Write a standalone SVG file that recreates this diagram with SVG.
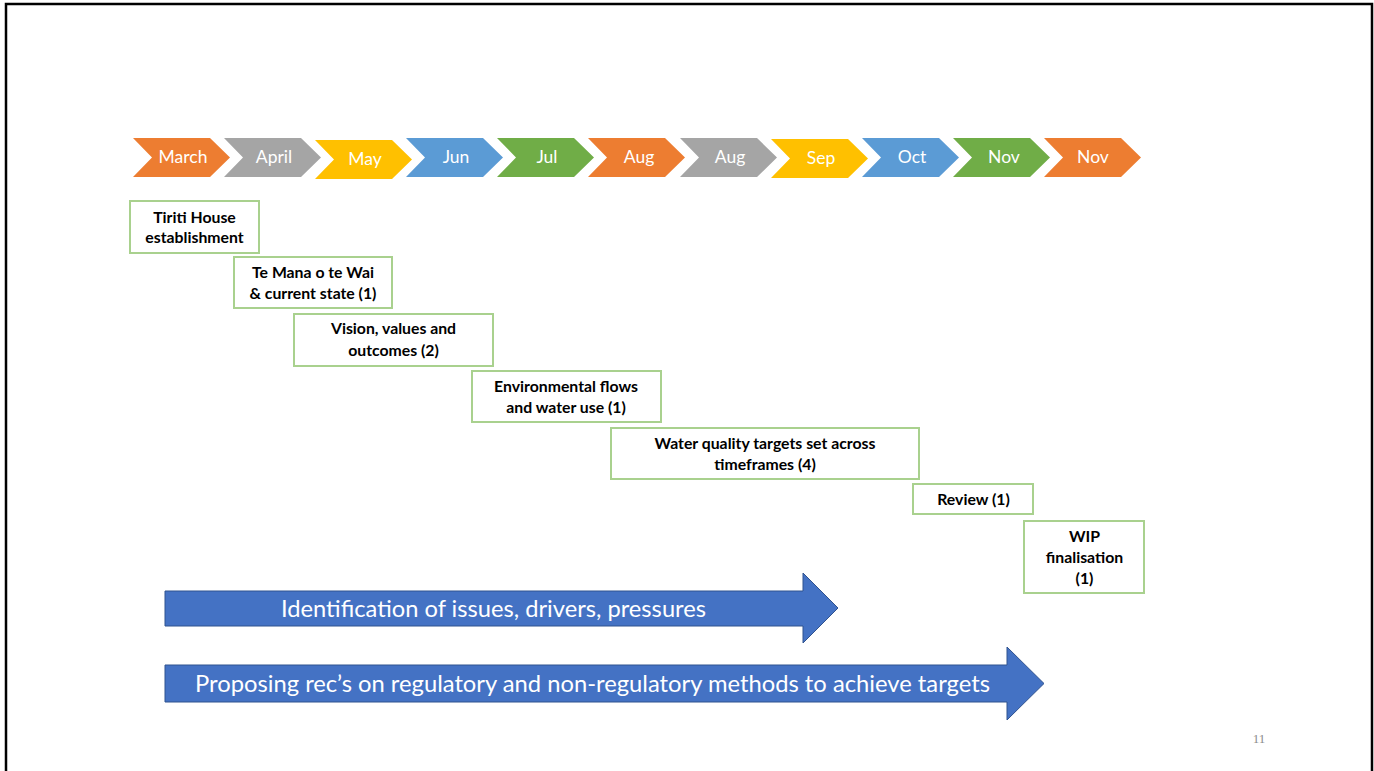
<svg xmlns="http://www.w3.org/2000/svg" width="1374" height="771" viewBox="0 0 1374 771">
<style>
.chev{stroke:none}
.ct{font-family:Lato,"Open Sans",sans-serif;font-size:17.5px;fill:#ffffff;text-anchor:middle}
.box{fill:#ffffff;stroke:#A9D18E;stroke-width:2}
.bt{font-family:Lato,"Open Sans",sans-serif;font-size:15.8px;font-weight:bold;fill:#000000;text-anchor:middle}
.arr{fill:#4472C4;stroke:#2F528F;stroke-width:1}
.at{font-family:Lato,"Open Sans",sans-serif;font-size:24px;fill:#ffffff;text-anchor:middle}
</style>
<defs>
<path id="chv" d="M0,0 H77 L97,19.5 L77,39 H0 L19,19.5 Z"/>
</defs>
<rect x="0" y="0" width="1374" height="771" fill="#ffffff"/>
<path d="M6,771 V4 H1372 V771" fill="none" stroke="#000000" stroke-width="2.5"/>

<g id="months">
<g id="m-march"><use href="#chv" x="133" y="138" fill="#ED7D31"/><text class="ct" x="183" y="163">March</text></g>
<g id="m-april"><use href="#chv" x="224" y="138" fill="#A5A5A5"/><text class="ct" x="274" y="163">April</text></g>
<g id="m-may"><use href="#chv" x="315" y="140" fill="#FFC000"/><text class="ct" x="365" y="165">May</text></g>
<g id="m-jun"><use href="#chv" x="406" y="138" fill="#5B9BD5"/><text class="ct" x="456" y="163">Jun</text></g>
<g id="m-jul"><use href="#chv" x="497" y="138" fill="#70AD47"/><text class="ct" x="547" y="163">Jul</text></g>
<g id="m-aug1"><use href="#chv" x="588" y="138" fill="#ED7D31"/><text class="ct" x="639" y="163">Aug</text></g>
<g id="m-aug2"><use href="#chv" x="680" y="138" fill="#A5A5A5"/><text class="ct" x="730" y="163">Aug</text></g>
<g id="m-sep"><use href="#chv" x="771" y="139" fill="#FFC000"/><text class="ct" x="821" y="164">Sep</text></g>
<g id="m-oct"><use href="#chv" x="862" y="138" fill="#5B9BD5"/><text class="ct" x="912" y="163">Oct</text></g>
<g id="m-nov1"><use href="#chv" x="953" y="138" fill="#70AD47"/><text class="ct" x="1004" y="163">Nov</text></g>
<g id="m-nov2"><use href="#chv" x="1044" y="138" fill="#ED7D31"/><text class="ct" x="1093" y="163">Nov</text></g>
</g>

<g id="n1"><rect class="box" x="130" y="201" width="129" height="52"/><text class="bt" x="194.5" y="223">Tiriti House</text><text class="bt" x="194.5" y="243">establishment</text></g>
<g id="n2"><rect class="box" x="234" y="257" width="158" height="51"/><text class="bt" x="313" y="278">Te Mana o te Wai</text><text class="bt" x="313" y="299">&amp; current state (1)</text></g>
<g id="n3"><rect class="box" x="294" y="314" width="199" height="52"/><text class="bt" x="393.5" y="334">Vision, values and</text><text class="bt" x="393.5" y="355.5">outcomes (2)</text></g>
<g id="n4"><rect class="box" x="472" y="371" width="189" height="51"/><text class="bt" x="566" y="391.5">Environmental flows</text><text class="bt" x="566" y="412.5">and water use (1)</text></g>
<g id="n5"><rect class="box" x="611" y="428" width="308" height="51"/><text class="bt" x="765" y="448.5">Water quality targets set across</text><text class="bt" x="765" y="469.5">timeframes (4)</text></g>
<g id="n6"><rect class="box" x="913" y="484" width="120" height="30"/><text class="bt" x="973.5" y="505">Review (1)</text></g>
<g id="n7"><rect class="box" x="1024" y="521" width="120" height="72"/><text class="bt" x="1084.5" y="541.5">WIP</text><text class="bt" x="1084.5" y="562.5">finalisation</text><text class="bt" x="1084.5" y="583.5">(1)</text></g>

<g id="connectors">
<g id="a1"><path class="arr" d="M165,591 H803 V573 L838,608 L803,643 V626 H165 Z"/><text class="at" x="493.5" y="617" textLength="425" lengthAdjust="spacingAndGlyphs">Identification of issues, drivers, pressures</text></g>
<g id="a2"><path class="arr" d="M165,665 H1007 V647 L1044,683.5 L1007,720 V702 H165 Z"/><text class="at" x="592.5" y="692" textLength="795" lengthAdjust="spacingAndGlyphs">Proposing rec’s on regulatory and non-regulatory methods to achieve targets</text></g>
</g>

<text x="1259" y="743" font-family="'Liberation Serif',serif" font-size="13" fill="#8C8C8C" text-anchor="middle">11</text>
</svg>
